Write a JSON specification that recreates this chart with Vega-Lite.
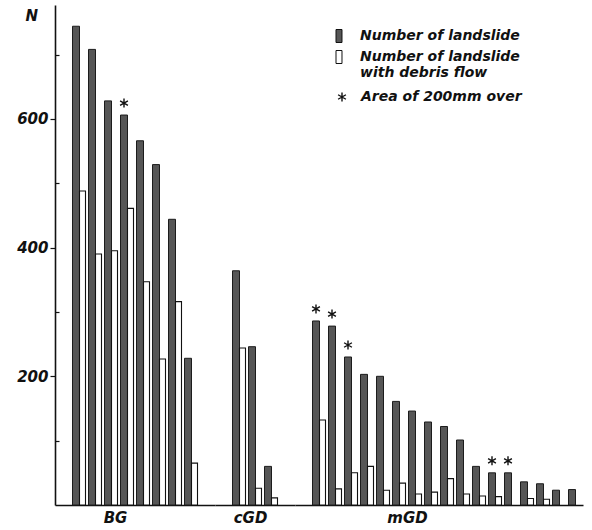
{
  "$schema": "https://vega.github.io/schema/vega-lite/v6.json",
  "padding": {"left": 16, "top": 5, "right": 4, "bottom": 5},
  "background": "white",
  "data": {"values": [
    {"group": "BG", "site": "BG01", "series": "Number of landslide", "n": 744, "star": false},
    {"group": "BG", "site": "BG01", "series": "Number of landslide with debris flow", "n": 488},
    {"group": "BG", "site": "BG02", "series": "Number of landslide", "n": 708, "star": false},
    {"group": "BG", "site": "BG02", "series": "Number of landslide with debris flow", "n": 390},
    {"group": "BG", "site": "BG03", "series": "Number of landslide", "n": 628, "star": false},
    {"group": "BG", "site": "BG03", "series": "Number of landslide with debris flow", "n": 395},
    {"group": "BG", "site": "BG04", "series": "Number of landslide", "n": 606, "star": true},
    {"group": "BG", "site": "BG04", "series": "Number of landslide with debris flow", "n": 461},
    {"group": "BG", "site": "BG05", "series": "Number of landslide", "n": 566, "star": false},
    {"group": "BG", "site": "BG05", "series": "Number of landslide with debris flow", "n": 347},
    {"group": "BG", "site": "BG06", "series": "Number of landslide", "n": 529, "star": false},
    {"group": "BG", "site": "BG06", "series": "Number of landslide with debris flow", "n": 227},
    {"group": "BG", "site": "BG07", "series": "Number of landslide", "n": 444, "star": false},
    {"group": "BG", "site": "BG07", "series": "Number of landslide with debris flow", "n": 316},
    {"group": "BG", "site": "BG08", "series": "Number of landslide", "n": 228, "star": false},
    {"group": "BG", "site": "BG08", "series": "Number of landslide with debris flow", "n": 65},
    {"group": "cGD", "site": "cGD01", "series": "Number of landslide", "n": 364, "star": false},
    {"group": "cGD", "site": "cGD01", "series": "Number of landslide with debris flow", "n": 244},
    {"group": "cGD", "site": "cGD02", "series": "Number of landslide", "n": 246, "star": false},
    {"group": "cGD", "site": "cGD02", "series": "Number of landslide with debris flow", "n": 26},
    {"group": "cGD", "site": "cGD03", "series": "Number of landslide", "n": 60, "star": false},
    {"group": "cGD", "site": "cGD03", "series": "Number of landslide with debris flow", "n": 11},
    {"group": "mGD", "site": "mGD01", "series": "Number of landslide", "n": 286, "star": true},
    {"group": "mGD", "site": "mGD01", "series": "Number of landslide with debris flow", "n": 132},
    {"group": "mGD", "site": "mGD02", "series": "Number of landslide", "n": 278, "star": true},
    {"group": "mGD", "site": "mGD02", "series": "Number of landslide with debris flow", "n": 25},
    {"group": "mGD", "site": "mGD03", "series": "Number of landslide", "n": 230, "star": true},
    {"group": "mGD", "site": "mGD03", "series": "Number of landslide with debris flow", "n": 50},
    {"group": "mGD", "site": "mGD04", "series": "Number of landslide", "n": 203, "star": false},
    {"group": "mGD", "site": "mGD04", "series": "Number of landslide with debris flow", "n": 60},
    {"group": "mGD", "site": "mGD05", "series": "Number of landslide", "n": 200, "star": false},
    {"group": "mGD", "site": "mGD05", "series": "Number of landslide with debris flow", "n": 23},
    {"group": "mGD", "site": "mGD06", "series": "Number of landslide", "n": 161, "star": false},
    {"group": "mGD", "site": "mGD06", "series": "Number of landslide with debris flow", "n": 34},
    {"group": "mGD", "site": "mGD07", "series": "Number of landslide", "n": 146, "star": false},
    {"group": "mGD", "site": "mGD07", "series": "Number of landslide with debris flow", "n": 17},
    {"group": "mGD", "site": "mGD08", "series": "Number of landslide", "n": 129, "star": false},
    {"group": "mGD", "site": "mGD08", "series": "Number of landslide with debris flow", "n": 20},
    {"group": "mGD", "site": "mGD09", "series": "Number of landslide", "n": 122, "star": false},
    {"group": "mGD", "site": "mGD09", "series": "Number of landslide with debris flow", "n": 41},
    {"group": "mGD", "site": "mGD10", "series": "Number of landslide", "n": 101, "star": false},
    {"group": "mGD", "site": "mGD10", "series": "Number of landslide with debris flow", "n": 17},
    {"group": "mGD", "site": "mGD11", "series": "Number of landslide", "n": 60, "star": false},
    {"group": "mGD", "site": "mGD11", "series": "Number of landslide with debris flow", "n": 14},
    {"group": "mGD", "site": "mGD12", "series": "Number of landslide", "n": 50, "star": true},
    {"group": "mGD", "site": "mGD12", "series": "Number of landslide with debris flow", "n": 13},
    {"group": "mGD", "site": "mGD13", "series": "Number of landslide", "n": 50, "star": true},
    {"group": "mGD", "site": "mGD14", "series": "Number of landslide", "n": 36, "star": false},
    {"group": "mGD", "site": "mGD14", "series": "Number of landslide with debris flow", "n": 10},
    {"group": "mGD", "site": "mGD15", "series": "Number of landslide", "n": 33, "star": false},
    {"group": "mGD", "site": "mGD15", "series": "Number of landslide with debris flow", "n": 9},
    {"group": "mGD", "site": "mGD16", "series": "Number of landslide", "n": 23, "star": false},
    {"group": "mGD", "site": "mGD17", "series": "Number of landslide", "n": 24, "star": false}
  ]},
  "spacing": 0,
  "hconcat": [
    {
      "width": {"step": 16},
      "height": 500,
      "transform": [{"filter": "datum.group == 'BG'"}],
      "encoding": {
        "x": {"field": "site", "type": "nominal", "sort": "ascending",
          "scale": {"paddingInner": 0, "paddingOuter": 1, "align": 0.5},
          "axis": {"title": "BG", "labels": false, "ticks": false, "titlePadding": 5, "titleX": 60}},
        "y": {"field": "n", "type": "quantitative",
          "scale": {"domain": [0, 777], "nice": false, "zero": true},
          "axis": {"title": "N", "titleAngle": 0, "titleX": -30, "titleY": 15, "titleAlign": "left", "titleBaseline": "alphabetic",
            "values": [100, 200, 300, 400, 500, 600, 700],
            "labelExpr": "datum.value % 200 == 0 ? datum.label : ''",
            "tickSize": {"condition": {"test": "datum.value % 200 == 0", "value": 5}, "value": -4},
            "labelPadding": 2, "grid": false}},
        "fill": {"field": "series", "type": "nominal",
          "scale": {"domain": ["Number of landslide", "Number of landslide with debris flow"], "range": ["#565656", "#ffffff"]},
          "legend": null}
      },
      "layer": [
        {"transform": [{"filter": "datum.series == 'Number of landslide'"}],
         "mark": {"type": "bar", "width": 7, "xOffset": -3, "stroke": "#1c1c1c", "strokeWidth": 1}},
        {"transform": [{"filter": "datum.series != 'Number of landslide'"}],
         "mark": {"type": "bar", "width": 6, "xOffset": 3.5, "stroke": "#111111", "strokeWidth": 1.1}},
        {"transform": [{"filter": "datum.star === true"}],
         "mark": {"type": "point", "filled": false, "opacity": 1, "stroke": "#111111", "strokeWidth": 1.4, "size": 81, "xOffset": -3, "yOffset": -12},
         "encoding": {
           "fill": {"value": "transparent"},
           "shape": {"datum": "Area of 200mm over", "type": "nominal",
             "scale": {"domain": ["Area of 200mm over"], "range": ["M0,-1L0,1M-0.87,-0.5L0.87,0.5M-0.87,0.5L0.87,-0.5"]},
             "legend": null}}}
      ]
    },
    {
      "width": {"step": 16},
      "height": 500,
      "transform": [{"filter": "datum.group == 'cGD'"}],
      "encoding": {
        "x": {"field": "site", "type": "nominal", "sort": "ascending",
          "scale": {"paddingInner": 0, "paddingOuter": 1, "align": 0.5},
          "axis": {"title": "cGD", "labels": false, "ticks": false, "titlePadding": 5, "titleX": 35}},
        "y": {"field": "n", "type": "quantitative",
          "scale": {"domain": [0, 777], "nice": false, "zero": true}, "axis": null},
        "fill": {"field": "series", "type": "nominal",
          "scale": {"domain": ["Number of landslide", "Number of landslide with debris flow"], "range": ["#565656", "#ffffff"]},
          "legend": null}
      },
      "layer": [
        {"transform": [{"filter": "datum.series == 'Number of landslide'"}],
         "mark": {"type": "bar", "width": 7, "xOffset": -3, "stroke": "#1c1c1c", "strokeWidth": 1}},
        {"transform": [{"filter": "datum.series != 'Number of landslide'"}],
         "mark": {"type": "bar", "width": 6, "xOffset": 3.5, "stroke": "#111111", "strokeWidth": 1.1}}
      ]
    },
    {
      "width": {"step": 16},
      "height": 500,
      "transform": [{"filter": "datum.group == 'mGD'"}],
      "encoding": {
        "x": {"field": "site", "type": "nominal", "sort": "ascending",
          "scale": {"paddingInner": 0, "paddingOuter": 0.5, "align": 1},
          "axis": {"title": "mGD", "labels": false, "ticks": false, "titlePadding": 5, "titleX": 112}},
        "y": {"field": "n", "type": "quantitative",
          "scale": {"domain": [0, 777], "nice": false, "zero": true}, "axis": null},
        "fill": {"field": "series", "type": "nominal",
          "scale": {"domain": ["Number of landslide", "Number of landslide with debris flow"], "range": ["#565656", "#ffffff"]},
          "legend": {"orient": "none", "legendX": 37, "legendY": 24, "title": null,
            "symbolType": "M-0.46,-1H0.46V1H-0.46Z", "symbolSize": 169,
            "symbolStrokeColor": "#111111", "symbolStrokeWidth": 1,
            "labelOffset": 14, "rowPadding": 3, "labelLimit": 300, "labelBaseline": "middle",
            "labelExpr": "datum.label == 'Number of landslide with debris flow' ? ['Number of landslide', 'with debris flow'] : datum.label"}}
      },
      "layer": [
        {"transform": [{"filter": "datum.series == 'Number of landslide'"}],
         "mark": {"type": "bar", "width": 7, "xOffset": -3, "stroke": "#1c1c1c", "strokeWidth": 1}},
        {"transform": [{"filter": "datum.series != 'Number of landslide'"}],
         "mark": {"type": "bar", "width": 6, "xOffset": 3.5, "stroke": "#111111", "strokeWidth": 1.1}},
        {"transform": [{"filter": "datum.star === true"}],
         "mark": {"type": "point", "filled": false, "opacity": 1, "stroke": "#111111", "strokeWidth": 1.4, "size": 81, "xOffset": -3, "yOffset": -12},
         "encoding": {
           "fill": {"value": "transparent"},
           "shape": {"datum": "Area of 200mm over", "type": "nominal",
             "scale": {"domain": ["Area of 200mm over"], "range": ["M0,-1L0,1M-0.87,-0.5L0.87,0.5M-0.87,0.5L0.87,-0.5"]},
             "legend": {"orient": "none", "legendX": 40, "legendY": 85, "title": null,
               "symbolSize": 81, "symbolOpacity": 1, "symbolStrokeColor": "#111111", "symbolFillColor": "transparent", "symbolStrokeWidth": 1.4,
               "labelOffset": 12, "labelLimit": 300}}}}
      ]
    }
  ],
  "resolve": {
    "scale": {"fill": "independent", "shape": "independent", "y": "independent", "x": "independent"},
    "legend": {"fill": "independent", "shape": "independent"}
  },
  "config": {
    "view": {"stroke": null},
    "font": "DejaVu Sans",
    "axis": {
      "domainColor": "#111111", "domainWidth": 1.6, "tickColor": "#111111", "tickWidth": 1.2,
      "labelFont": "DejaVu Sans", "labelFontStyle": "italic", "labelFontWeight": "bold", "labelFontSize": 15, "labelColor": "#111111",
      "titleFont": "DejaVu Sans", "titleFontStyle": "italic", "titleFontWeight": "bold", "titleFontSize": 15, "titleColor": "#111111"
    },
    "legend": {
      "labelFont": "DejaVu Sans", "labelFontStyle": "italic", "labelFontWeight": "bold", "labelFontSize": 14, "labelColor": "#111111", "padding": 0
    }
  }
}
